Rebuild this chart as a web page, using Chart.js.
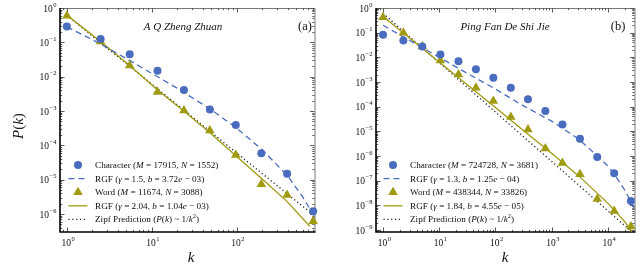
<!DOCTYPE html>
<html>
<head>
<meta charset="utf-8">
<script src="https://cdn.jsdelivr.net/npm/chart.js@4.4.1/dist/chart.umd.min.js"></script>
<style>
  body { margin: 0; background: #fff; }
  #wrap { width: 640px; height: 280px; position: relative; }
  canvas { position: absolute; top: 0; }
</style>
</head>
<body>
<div id="wrap">
  <canvas id="chartA" width="320" height="280" style="left:0"></canvas>
  <canvas id="chartB" width="320" height="280" style="left:320px"></canvas>
</div>
<script>
const SERIF = "'Liberation Serif', 'DejaVu Serif', serif";
const BLUE = '#4a6cbf';
const OLIVE = '#a09a10';

// (a) A Q Zheng Zhuan
const rankA = [1, 2.5, 5.5, 11.7, 24, 48.5, 98, 196, 395, 800];
const charA = [0.29, 0.126, 0.045, 0.015, 0.0041, 0.0011, 3.9e-4, 5.9e-5, 1.5e-5, 1.2e-6];
const wordA = [0.59, 0.105, 0.021, 0.0036, 0.00103, 2.7e-4, 5.2e-5, 7.4e-6, 3.6e-6, 6.2e-7];
const rgfCharKA = [1, 2, 5, 10, 20, 50, 100, 200, 400, 600, 830];
const rgfCharA = [0.28, 0.12, 0.034, 0.0125, 0.0046, 0.0011, 3.2e-4, 7.5e-5, 1.3e-5, 3.2e-6, 8.5e-7];
const rgfWordKA = [1, 2.5, 5.5, 12, 24, 48, 98, 196, 395, 730];
const rgfWordA = [0.62, 0.105, 0.021, 0.0039, 0.00098, 2.4e-4, 5.0e-5, 1.1e-5, 2.3e-6, 4.4e-7];
const zipfKA = [1, 800];
const zipfA = [0.608, 9.5e-7];
const xTicksA = [1, 10, 100];
const yTicksA = [1, 1e-1, 1e-2, 1e-3, 1e-4, 1e-5, 1e-6];

// (b) Ping Fan De Shi Jie
const rankB = [1, 2.3, 5, 10.5, 22, 45, 92, 188, 380, 775, 1560, 3200, 6500, 13000, 25800];
const charB = [0.082, 0.048, 0.0276, 0.0131, 0.0070, 0.0033, 0.0015, 5.9e-4, 2.0e-4, 6.6e-5, 1.9e-5, 5.0e-6, 9.1e-7, 2.0e-7, 1.5e-8];
const wordB = [0.42, 0.10, 0.0276, 0.0075, 0.0020, 5.9e-4, 1.7e-4, 3.8e-5, 1.2e-5, 2.0e-6, 5.2e-7, 1.8e-7, 1.8e-8, 5.9e-9, 1.4e-9];
const rgfCharKB = [1, 3, 10, 30, 100, 300, 1000, 3000, 6000, 10000, 15000, 20000, 25000, 29900];
const rgfCharB = [0.2, 0.048, 0.01, 0.0024, 5.2e-4, 1.15e-4, 2.6e-5, 5e-6, 1.2e-6, 4e-7, 1.15e-7, 4.2e-8, 1.6e-8, 7e-9];
const rgfWordKB = [1, 3, 10, 30, 100, 300, 1000, 3000, 10000, 20000, 27000];
const rgfWordB = [0.45, 0.059, 0.0065, 8.5e-4, 9.3e-5, 1.2e-5, 1.3e-6, 1.6e-7, 1.23e-8, 2.2e-9, 8.5e-10];
const zipfKB = [1, 27000];
const zipfB = [0.608, 8.3e-10];
const xTicksB = [1, 10, 100, 1000, 10000];
const yTicksB = [1, 1e-1, 1e-2, 1e-3, 1e-4, 1e-5, 1e-6, 1e-7, 1e-8, 1e-9];

// legend texts: [text, style]  n = normal, i = italic, s = superscript
const legendA = [
  [['Character (', 'n'], ['M', 'i'], [' = 17915, ', 'n'], ['N', 'i'], [' = 1552)', 'n']],
  [['RGF (', 'n'], ['\u03b3', 'i'], [' = 1.5, ', 'n'], ['b', 'i'], [' = 3.72', 'n'], ['e', 'i'], [' \u2212 03)', 'n']],
  [['Word (', 'n'], ['M', 'i'], [' = 11674, ', 'n'], ['N', 'i'], [' = 3088)', 'n']],
  [['RGF (', 'n'], ['\u03b3', 'i'], [' = 2.04, ', 'n'], ['b', 'i'], [' = 1.04', 'n'], ['e', 'i'], [' \u2212 03)', 'n']],
  [['Zipf Prediction (', 'n'], ['P', 'i'], ['(', 'n'], ['k', 'i'], [') ~ 1/', 'n'], ['k', 'i'], ['2', 's'], [')', 'n']]
];
const legendB = [
  [['Character (', 'n'], ['M', 'i'], [' = 724728, ', 'n'], ['N', 'i'], [' = 3681)', 'n']],
  [['RGF (', 'n'], ['\u03b3', 'i'], [' = 1.3, ', 'n'], ['b', 'i'], [' = 1.25', 'n'], ['e', 'i'], [' \u2212 04)', 'n']],
  [['Word (', 'n'], ['M', 'i'], [' = 438344, ', 'n'], ['N', 'i'], [' = 33826)', 'n']],
  [['RGF (', 'n'], ['\u03b3', 'i'], [' = 1.84, ', 'n'], ['b', 'i'], [' = 4.55', 'n'], ['e', 'i'], [' \u2212 05)', 'n']],
  [['Zipf Prediction (', 'n'], ['P', 'i'], ['(', 'n'], ['k', 'i'], [') ~ 1/', 'n'], ['k', 'i'], ['2', 's'], [')', 'n']]
];
const legendKinds = ['circle', 'dash', 'triangle', 'solid', 'dot'];

function pts(xs, ys) {
  return xs.map((x, i) => ({ x: x, y: ys[i] }));
}

function drawPow(ctx, value, x, y, align) {
  const e = Math.round(Math.log10(value));
  const sup = e < 0 ? '\u2212' + (-e) : String(e);
  ctx.font = '9.5px ' + SERIF;
  const wb = ctx.measureText('10').width;
  ctx.font = '6.5px ' + SERIF;
  const ws = ctx.measureText(sup).width;
  const x0 = align === 'right' ? x - wb - ws - 0.5 : x - (wb + ws) / 2;
  ctx.textAlign = 'left';
  ctx.textBaseline = 'middle';
  ctx.font = '9.5px ' + SERIF;
  ctx.fillText('10', x0, y + 1);
  ctx.font = '6.5px ' + SERIF;
  ctx.fillText(sup, x0 + wb + 0.5, y - 3);
}

function drawRich(ctx, segs, x, y, size) {
  let cx = x;
  ctx.textAlign = 'left';
  ctx.textBaseline = 'middle';
  segs.forEach(([t, st]) => {
    if (st === 's') {
      ctx.font = (size * 0.7) + 'px ' + SERIF;
      ctx.fillText(t, cx, y - size * 0.35);
    } else {
      ctx.font = (st === 'i' ? 'italic ' : '') + size + 'px ' + SERIF;
      ctx.fillText(t, cx, y);
    }
    cx += ctx.measureText(t).width;
  });
}

function minors(majors, min, max) {
  const out = [];
  const all = majors.slice().sort((a, b) => a - b);
  all.push(all[all.length - 1] * 10);
  all.unshift(all[0] / 10);
  all.forEach(m => {
    for (let j = 2; j <= 9; j++) {
      const v = m * j;
      if (v > min && v < max) out.push(v);
    }
  });
  return out;
}

const framePlugin = {
  id: 'frame',
  beforeDatasetsDraw(chart) {
    const o = chart.options.plugins.frame;
    const ctx = chart.ctx, a = chart.chartArea;
    const xs = chart.scales.x, ys = chart.scales.y;
    ctx.save();
    ctx.strokeStyle = '#333';
    ctx.lineWidth = 0.8;
    ctx.beginPath();
    const tick = (v, len, axis) => {
      if (axis === 'x') {
        const px = Math.round(xs.getPixelForValue(v)) + 0.5;
        ctx.moveTo(px, a.bottom); ctx.lineTo(px, a.bottom - len);
        ctx.moveTo(px, a.top); ctx.lineTo(px, a.top + len);
      } else {
        const py = Math.round(ys.getPixelForValue(v)) + 0.5;
        ctx.moveTo(a.left, py); ctx.lineTo(a.left + len, py);
        ctx.moveTo(a.right, py); ctx.lineTo(a.right - len, py);
      }
    };
    o.xTicks.forEach(v => tick(v, 4.5, 'x'));
    o.yTicks.forEach(v => tick(v, 4.5, 'y'));
    minors(o.xTicks, xs.min, xs.max).forEach(v => tick(v, 2.2, 'x'));
    minors(o.yTicks, ys.min, ys.max).forEach(v => tick(v, 2.2, 'y'));
    ctx.stroke();
    // thin top/right border
    ctx.strokeStyle = '#555';
    ctx.lineWidth = 0.8;
    ctx.beginPath();
    ctx.moveTo(a.left, a.top + 0.5); ctx.lineTo(a.right + 0.5, a.top + 0.5);
    ctx.lineTo(a.right + 0.5, a.bottom);
    ctx.stroke();
    // heavy left/bottom axes
    ctx.strokeStyle = '#000';
    ctx.lineWidth = 1.6;
    ctx.beginPath();
    ctx.moveTo(a.left, a.top); ctx.lineTo(a.left, a.bottom); ctx.lineTo(a.right + 1, a.bottom);
    ctx.stroke();
    // tick labels
    ctx.fillStyle = '#111';
    o.yTicks.forEach(v => drawPow(ctx, v, a.left - 3.5, ys.getPixelForValue(v), 'right'));
    o.xTicks.forEach(v => drawPow(ctx, v, xs.getPixelForValue(v) + 1, a.bottom + 10, 'center'));
    ctx.restore();
  },
  afterDraw(chart) {
    const o = chart.options.plugins.frame;
    const ctx = chart.ctx;
    ctx.save();
    ctx.fillStyle = '#111';
    ctx.textBaseline = 'middle';
    ctx.textAlign = 'center';
    ctx.font = 'italic 11px ' + SERIF;
    ctx.fillText(o.title, o.titleX, 27);
    ctx.font = '12.5px ' + SERIF;
    ctx.fillText(o.tag, o.tagX, 27);
    ctx.font = 'italic 15px ' + SERIF;
    ctx.fillText('k', o.kX, 258);
    if (o.yLabel) {
      ctx.save();
      ctx.translate(19, 126);
      ctx.rotate(-Math.PI / 2);
      drawRich(ctx, [['P', 'i'], ['(', 'n'], ['k', 'i'], [')', 'n']], -13, 0, 15);
      ctx.restore();
    }
    // legend
    o.legend.forEach((segs, i) => {
      const y = o.legY + i * 13.6;
      const mx = o.legMarkX;
      const kind = legendKinds[i];
      ctx.save();
      if (kind === 'circle') {
        ctx.fillStyle = BLUE;
        ctx.beginPath(); ctx.arc(mx, y, 4, 0, Math.PI * 2); ctx.fill();
      } else if (kind === 'triangle') {
        ctx.fillStyle = OLIVE;
        ctx.beginPath();
        ctx.moveTo(mx, y - 5.5); ctx.lineTo(mx + 4.8, y + 2.8); ctx.lineTo(mx - 4.8, y + 2.8);
        ctx.closePath(); ctx.fill();
      } else {
        ctx.lineWidth = 1.3;
        ctx.strokeStyle = kind === 'dash' ? BLUE : (kind === 'solid' ? OLIVE : '#222');
        ctx.setLineDash(kind === 'dash' ? [6, 4] : (kind === 'dot' ? [1.2, 2.6] : []));
        ctx.beginPath(); ctx.moveTo(mx - 9.5, y); ctx.lineTo(mx + 9.5, y); ctx.stroke();
      }
      ctx.restore();
      ctx.fillStyle = '#111';
      drawRich(ctx, segs, o.legTextX, y + 0.5, 9.2);
    });
    ctx.restore();
  }
};

function makeChart(id, d) {
  return new Chart(document.getElementById(id), {
    type: 'scatter',
    data: {
      datasets: [
        { data: pts(d.rank, d.chars), pointStyle: 'circle', pointRadius: 4, backgroundColor: BLUE, borderWidth: 0, showLine: false, order: 0, clip: false },
        { data: pts(d.rank, d.words), pointStyle: 'triangle', pointRadius: 5.5, backgroundColor: OLIVE, borderWidth: 0, showLine: false, order: 0, clip: false },
        { data: pts(d.rgfCharK, d.rgfChar), showLine: true, pointRadius: 0, borderColor: BLUE, borderWidth: 1.3, borderDash: [6, 4], fill: false, order: 1 },
        { data: pts(d.rgfWordK, d.rgfWord), showLine: true, pointRadius: 0, borderColor: OLIVE, borderWidth: 1.3, fill: false, order: 1 },
        { data: pts(d.zipfK, d.zipf), showLine: true, pointRadius: 0, borderColor: '#222', borderWidth: 1.3, borderDash: [1.2, 2.6], fill: false, order: 2 }
      ]
    },
    options: {
      responsive: false,
      animation: false,
      devicePixelRatio: 1,
      events: [],
      layout: { padding: { top: 8, right: d.padRight, left: 0, bottom: 0 } },
      scales: {
        x: {
          type: 'logarithmic', min: d.xMin, max: d.xMax,
          grid: { display: false }, border: { display: false }, ticks: { display: false },
          afterFit: s => { s.height = 48; }
        },
        y: {
          type: 'logarithmic', min: d.yMin, max: 1,
          grid: { display: false }, border: { display: false }, ticks: { display: false },
          afterFit: s => { s.width = d.yWidth; }
        }
      },
      plugins: {
        legend: { display: false },
        tooltip: { enabled: false },
        frame: {
          xTicks: d.xTicks, yTicks: d.yTicks, title: d.title, titleX: d.titleX,
          tag: d.tag, tagX: d.tagX, kX: d.kX, yLabel: d.yLabel,
          legend: d.legend, legY: 165, legMarkX: d.legMarkX, legTextX: d.legTextX
        }
      }
    },
    plugins: [framePlugin]
  });
}

makeChart('chartA', {
  rank: rankA, chars: charA, words: wordA,
  rgfCharK: rgfCharKA, rgfChar: rgfCharA, rgfWordK: rgfWordKA, rgfWord: rgfWordA,
  zipfK: zipfKA, zipf: zipfA, xTicks: xTicksA, yTicks: yTicksA,
  xMin: 0.83, xMax: 830, yMin: 3e-7, yWidth: 60, padRight: 2,
  title: 'A Q Zheng Zhuan', titleX: 183, tag: '(a)', tagX: 305, kX: 191, yLabel: true,
  legend: legendA, legMarkX: 78, legTextX: 95
});

makeChart('chartB', {
  rank: rankB, chars: charB, words: wordB,
  rgfCharK: rgfCharKB, rgfChar: rgfCharB, rgfWordK: rgfWordKB, rgfWord: rgfWordB,
  zipfK: zipfKB, zipf: zipfB, xTicks: xTicksB, yTicks: yTicksB,
  xMin: 0.75, xMax: 29900, yMin: 8.3e-10, yWidth: 56, padRight: 3,
  title: 'Ping Fan De Shi Jie', titleX: 185, tag: '(b)', tagX: 298, kX: 185, yLabel: false,
  legend: legendB, legMarkX: 73, legTextX: 90
});
</script>
</body>
</html>
